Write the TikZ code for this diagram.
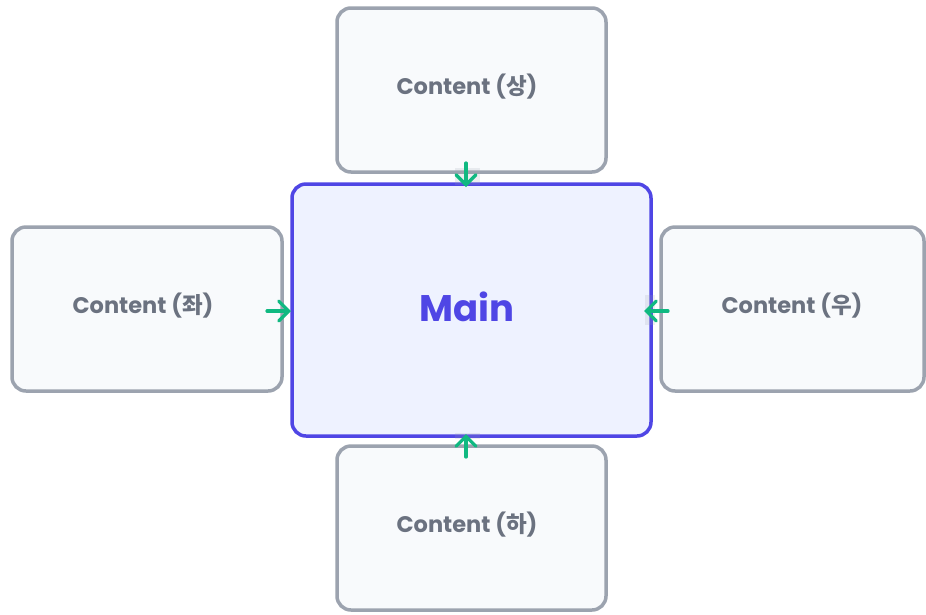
\documentclass[tikz,border=0pt]{standalone}
\usepackage{fontspec}
\setmainfont{Poppins}
\newfontfamily\kr{Noto Sans CJK KR}
\usetikzlibrary{arrows.meta}
\definecolor{boxfill}{HTML}{F8FAFC}
\definecolor{boxline}{HTML}{9CA3AF}
\definecolor{mainfill}{HTML}{EEF2FF}
\definecolor{mainline}{HTML}{4F46E5}
\definecolor{txt}{HTML}{6B7280}
\definecolor{arr}{HTML}{10B981}
\tikzset{
  cbox/.style={draw=boxline, fill=boxfill, line width=3.5pt, rounded corners=14pt},
  mbox/.style={draw=mainline, fill=mainfill, line width=3.5pt, rounded corners=14pt},
  ctext/.style={text=txt, font=\fontsize{22.5}{26}\selectfont\bfseries},
  mtext/.style={text=mainline, font=\fontsize{37}{42}\selectfont\bfseries},
  conn/.style={draw=arr, line width=3.2pt, line cap=round, -{Straight Barb[length=10pt,width=20pt,line cap=round]}},
  lbg/.style={fill=boxline, fill opacity=0.18, inner sep=0pt, draw=none}
}
\begin{document}
\begin{tikzpicture}[x=1pt,y=-1pt]
\useasboundingbox (0,0) rectangle (926,614);
\fill[white] (0,0) rectangle (926,614);
% boxes
\draw[cbox] (337,8) rectangle (606,172);
\draw[cbox] (12,227) rectangle (282,391);
\draw[cbox] (661,227) rectangle (924,391);
\draw[cbox] (337,446) rectangle (606,610);
\draw[mbox] (292,184) rectangle (651,436);
% texts
\node[ctext] (top) at (467,87) {Content ({\kr\bfseries 상})};
\node[ctext] (left) at (143,306) {Content ({\kr\bfseries 좌})};
\node[ctext] (right) at (792,306) {Content ({\kr\bfseries 우})};
\node[ctext] (bottom) at (467,525) {Content ({\kr\bfseries 하})};
\node[mtext] (main) at (467,307) {Main};
% label backgrounds
\node[lbg, minimum width=25pt, minimum height=17pt] (l1) at (467,176) {};
\node[lbg, minimum width=10pt, minimum height=30pt] (l3) at (650,310) {};
\node[lbg, minimum width=25pt, minimum height=6pt] (l4) at (467,436) {};
% anchors
\coordinate (ta) at (466,163);
\coordinate (tb) at (466,187);
\coordinate (la) at (267,311);
\coordinate (lb) at (291,311);
\coordinate (ra) at (668,311);
\coordinate (rb) at (644,311);
\coordinate (ba) at (466,457);
\coordinate (bb) at (466,434);
\draw[conn] (ta) -- (tb);
\draw[conn] (la) -- (lb);
\draw[conn] (ra) -- (rb);
\draw[conn] (ba) -- (bb);
\end{tikzpicture}
\end{document}
